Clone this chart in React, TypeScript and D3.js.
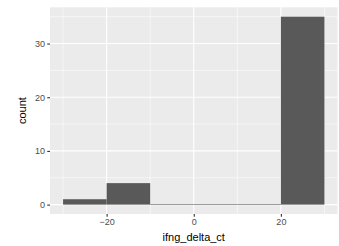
import { useEffect, useRef } from "react";
import * as d3 from "d3";

// histogram bins of ifng_delta_ct (binwidth 10)
const binStarts = [-30, -20, -10, 0, 10, 20];
const binWidth = 10;
const counts = [1, 4, 0, 0, 0, 35];
const xTicks = [-20, 0, 20];
const xMinor = [-30, -10, 10, 30];
const yTicks = [0, 10, 20, 30];
const yMinor = [5, 15, 25, 35];

const W = 339;
const H = 246;

const App = () => {
  const svgRef = useRef<SVGSVGElement | null>(null);

  useEffect(() => {
    const svg = d3.select(svgRef.current);
    svg.selectAll("*").remove();

    const panel = { left: 50, right: 337.5, top: 7.3, bottom: 214 };

    const xMin = binStarts[0];
    const xMax = binStarts[binStarts.length - 1] + binWidth;
    const xPad = (xMax - xMin) * 0.05;
    const x = d3
      .scaleLinear()
      .domain([xMin - xPad, xMax + xPad])
      .range([panel.left, panel.right]);

    const yMax = d3.max(counts) as number;
    const y = d3
      .scaleLinear()
      .domain([-yMax * 0.05, yMax * 1.05])
      .range([panel.bottom, panel.top]);

    svg
      .append("rect")
      .attr("x", panel.left)
      .attr("y", panel.top)
      .attr("width", panel.right - panel.left)
      .attr("height", panel.bottom - panel.top)
      .attr("fill", "#ebebeb");

    const grid = svg.append("g").attr("stroke", "#fff").attr("fill", "none");
    grid
      .selectAll(".xm")
      .data(xMinor)
      .join("line")
      .attr("x1", (d) => x(d))
      .attr("x2", (d) => x(d))
      .attr("y1", panel.top)
      .attr("y2", panel.bottom)
      .attr("stroke-width", 0.55);
    grid
      .selectAll(".ym")
      .data(yMinor)
      .join("line")
      .attr("y1", (d) => y(d))
      .attr("y2", (d) => y(d))
      .attr("x1", panel.left)
      .attr("x2", panel.right)
      .attr("stroke-width", 0.55);
    grid
      .selectAll(".xM")
      .data(xTicks)
      .join("line")
      .attr("x1", (d) => x(d))
      .attr("x2", (d) => x(d))
      .attr("y1", panel.top)
      .attr("y2", panel.bottom)
      .attr("stroke-width", 1.1);
    grid
      .selectAll(".yM")
      .data(yTicks)
      .join("line")
      .attr("y1", (d) => y(d))
      .attr("y2", (d) => y(d))
      .attr("x1", panel.left)
      .attr("x2", panel.right)
      .attr("stroke-width", 1.1);

    // bars (zero-count bins still show as a hairline)
    svg
      .append("g")
      .selectAll("rect")
      .data(binStarts)
      .join("rect")
      .attr("x", (d) => x(d))
      .attr("width", (d) => x(d + binWidth) - x(d))
      .attr("y", (d, i) => Math.min(y(counts[i]), y(0) - 0.6))
      .attr("height", (d, i) => Math.max(y(0) - y(counts[i]), 0.6))
      .attr("fill", "#595959");

    // x axis
    const gx = svg
      .append("g")
      .attr("transform", `translate(0,${panel.bottom})`)
      .call(
        d3
          .axisBottom(x)
          .tickValues(xTicks)
          .tickSize(2.75)
          .tickPadding(2.2)
          .tickFormat((d) => String(d).replace("-", "\u2212"))
      );
    gx.select(".domain").remove();
    gx.selectAll("line").attr("stroke", "#333").attr("stroke-width", 1.1);
    gx.selectAll("text")
      .attr("fill", "#4d4d4d")
      .attr("font-size", 9)
      .attr("font-family", "Liberation Sans, Arial, sans-serif");

    // y axis
    const gy = svg
      .append("g")
      .attr("transform", `translate(${panel.left},0)`)
      .call(d3.axisLeft(y).tickValues(yTicks).tickSize(2.75).tickPadding(2.2));
    gy.select(".domain").remove();
    gy.selectAll("line").attr("stroke", "#333").attr("stroke-width", 1.1);
    gy.selectAll("text")
      .attr("fill", "#4d4d4d")
      .attr("font-size", 9)
      .attr("font-family", "Liberation Sans, Arial, sans-serif");

    svg
      .append("text")
      .attr("x", (panel.left + panel.right) / 2)
      .attr("y", 241)
      .attr("text-anchor", "middle")
      .attr("font-size", 11)
      .attr("font-family", "Liberation Sans, Arial, sans-serif")
      .attr("fill", "#000")
      .text("ifng_delta_ct");

    svg
      .append("text")
      .attr("transform", `translate(26,${(panel.top + panel.bottom) / 2}) rotate(-90)`)
      .attr("text-anchor", "middle")
      .attr("font-size", 11)
      .attr("font-family", "Liberation Sans, Arial, sans-serif")
      .attr("fill", "#000")
      .text("count");
  }, []);

  return (
    <svg
      ref={svgRef}
      width={W}
      height={H}
      style={{ position: "absolute", left: 0, top: 0, background: "white" }}
    ></svg>
  );
};

export default App;
